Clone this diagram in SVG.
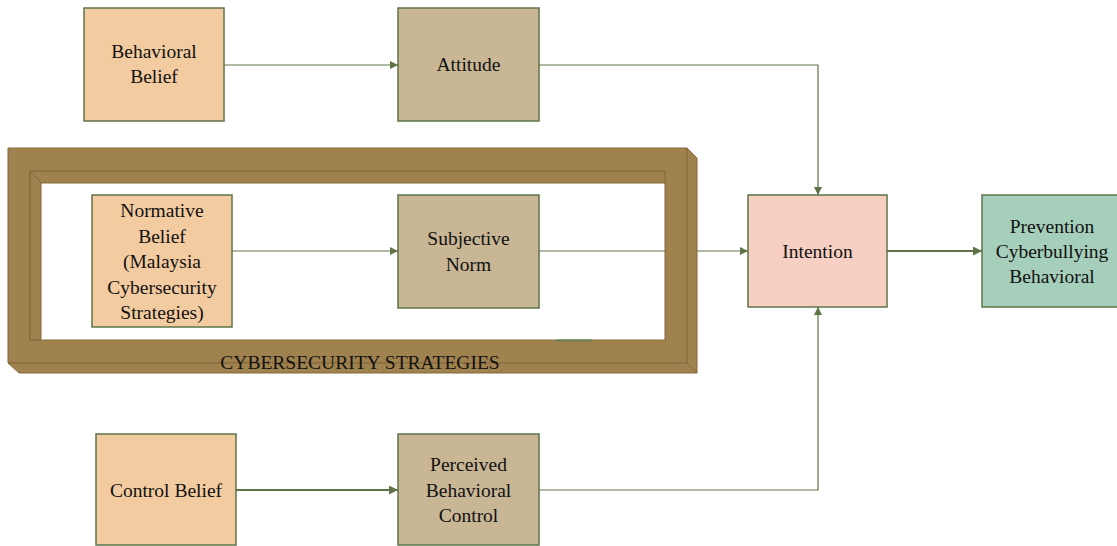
<svg xmlns="http://www.w3.org/2000/svg" width="1117" height="546" viewBox="0 0 1117 546">
<defs>
<style>
.n{stroke:#5E7448;stroke-width:1.5}
.b{fill:#F3CBA0}
.t{fill:#C8B695}
.i{fill:#F8CFC3}
.p{fill:#A5CEBB}
text{font-family:"Liberation Serif","Times New Roman",serif;font-size:19.5px;fill:#111;text-anchor:middle}
.c{fill:none;stroke:#5E7448;stroke-width:1.2}
.c2{fill:none;stroke:#5E7448;stroke-width:2.2}
.f{fill:#A0824F;stroke:#86693D;stroke-width:1}
</style>
<marker id="a" viewBox="0 0 10 10" refX="10" refY="5" markerWidth="8" markerHeight="8" markerUnits="userSpaceOnUse" orient="auto"><path d="M0,0L10,5L0,10Z" fill="#5E7448"/></marker>
<marker id="a2" viewBox="0 0 10 10" refX="10" refY="5" markerWidth="9" markerHeight="9" markerUnits="userSpaceOnUse" orient="auto"><path d="M0,0L10,5L0,10Z" fill="#5E7448"/></marker>
</defs>
<g id="connectors">
<path class="c" d="M224,65H398" marker-end="url(#a)"/>
<path class="c" d="M539,65H818V195" marker-end="url(#a)"/>
<path class="c" d="M232,251H398" marker-end="url(#a)"/>
<path class="c" d="M539,251H748" marker-end="url(#a)"/>
<path class="c2" d="M236,490H398" marker-end="url(#a2)"/>
<path class="c" d="M539,490H818V307" marker-end="url(#a)"/>
<path class="c2" d="M887,251H982" marker-end="url(#a2)"/>
</g>
<g id="frame">
<path class="f" fill-rule="evenodd" d="M8,148H687V363H8Z M30,171H665V340H30Z"/>
<path class="f" d="M687,148L697,158V373L687,363Z"/>
<path class="f" d="M8,363H687L697,373H19Z"/>
<path class="f" d="M30,171H665V183H41Z"/>
<path class="f" d="M30,171L41,183V340H30Z"/>
<path d="M556,340.5H592" stroke="#6A8055" stroke-width="2"/>
<text x="360" y="369" font-size="19px">CYBERSECURITY STRATEGIES</text>
</g>
<g id="behavioral-belief"><rect class="n b" x="84" y="8" width="140" height="113"/><text x="154" y="58">Behavioral</text><text x="154" y="83">Belief</text></g>
<g id="attitude"><rect class="n t" x="398" y="8" width="141" height="113"/><text x="468.5" y="71">Attitude</text></g>
<g id="normative-belief"><rect class="n b" x="92" y="195" width="140" height="132"/><text x="162" y="217">Normative</text><text x="162" y="242.5">Belief</text><text x="162" y="268">(Malaysia</text><text x="162" y="293.5">Cybersecurity</text><text x="162" y="319">Strategies)</text></g>
<g id="subjective-norm"><rect class="n t" x="398" y="195" width="141" height="113"/><text x="468.5" y="245">Subjective</text><text x="468.5" y="270.5">Norm</text></g>
<g id="intention"><rect class="n i" x="748" y="195" width="139" height="112"/><text x="817.5" y="258">Intention</text></g>
<g id="prevention"><rect class="n p" x="982" y="195" width="140" height="112"/><text x="1052" y="233">Prevention</text><text x="1052" y="258">Cyberbullying</text><text x="1052" y="283">Behavioral</text></g>
<g id="control-belief"><rect class="n b" x="96" y="434" width="140" height="111"/><text x="166" y="496.5">Control Belief</text></g>
<g id="perceived-behavioral-control"><rect class="n t" x="398" y="434" width="141" height="111"/><text x="468.5" y="471">Perceived</text><text x="468.5" y="496.5">Behavioral</text><text x="468.5" y="522">Control</text></g>
</svg>
